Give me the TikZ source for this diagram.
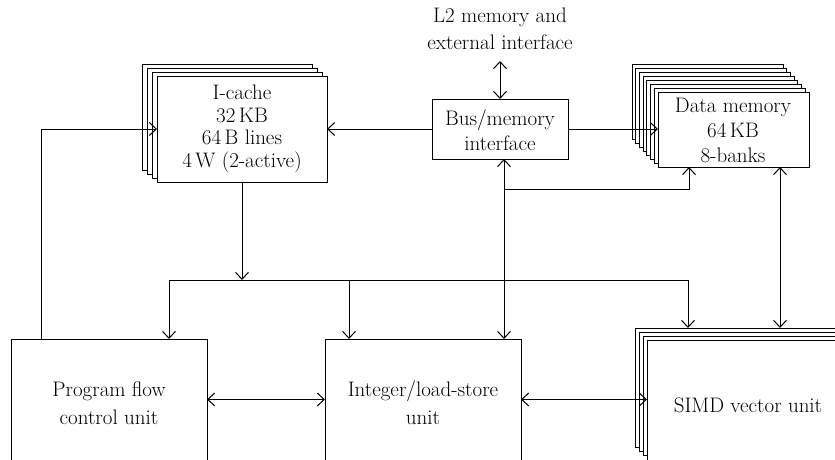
\documentclass[tikz,border=0pt]{standalone}
\usetikzlibrary{arrows.meta}
\begin{document}
\begin{tikzpicture}[x=1pt,y=-1pt,line width=1pt,
  box/.style={draw,fill=white,anchor=north west,inner sep=0pt,outer sep=0pt},
  lbl/.style={font=\fontsize{21}{22.5}\selectfont,align=center,inner sep=0pt},
  arr/.style={-{Straight Barb[length=7pt,width=13pt]}},
  darr/.style={{Straight Barb[length=7pt,width=13pt]}-{Straight Barb[length=7pt,width=13pt]}}]
\clip (0,0) rectangle (835,460);
% I-cache stack
\foreach \i in {3,2,1}
  \node[box,minimum width=170pt,minimum height=106pt] (ic\i) at ({157-4.67*\i},{76-3.67*\i}) {};
\node[box,minimum width=170pt,minimum height=106pt] (icache) at (157,76) {};
\node[lbl] (ictext) at (242,129) {I-cache\\32\,KB\\64\,B lines\\4\,W (2-active)};
% Data memory stack
\foreach \i in {7,6,...,1}
  \node[box,minimum width=151pt,minimum height=75pt] (dm\i) at ({658-3.71*\i},{92-3.86*\i}) {};
\node[box,minimum width=151pt,minimum height=75pt] (dmem) at (658,92) {};
\node[lbl,font=\fontsize{21}{25}\selectfont] (dmtext) at (733,130) {Data memory\\64\,KB\\8-banks};
% Bus/memory interface
\node[box,minimum width=136pt,minimum height=60pt] (bus) at (432,99) {};
\node[lbl,font=\fontsize{21}{25.5}\selectfont] (bustext) at (500,130) {Bus/memory\\interface};
\node[lbl,font=\fontsize{21}{27.5}\selectfont] (l2) at (500,29) {L2 memory and\\external interface};
\coordinate (l2end) at (500,61);
% bottom units
\node[box,minimum width=196pt,minimum height=121pt] (pfc) at (11,339) {};
\node[lbl,font=\fontsize{21}{28}\selectfont] (pfctext) at (109,403) {Program flow\\control unit};
\node[box,minimum width=196pt,minimum height=121pt] (ils) at (325,339) {};
\node[lbl,font=\fontsize{21}{28}\selectfont] (ilstext) at (423,403) {Integer/load-store\\unit};
\foreach \i in {3,2,1}
  \node[box,minimum width=200pt,minimum height=119pt] (simd\i) at ({647-3.67*\i},{340-4*\i}) {};
\node[box,minimum width=200pt,minimum height=120pt] (simd) at (647,340) {};
\node[lbl] (simdtext) at (748,405) {SIMD vector unit};
% connectors
\draw[darr] (l2end) -- (bus.north);
\draw[arr] (bus.west) -- (icache.east |- bus.west);
\draw[arr] (bus.east) -- (dmem.west |- bus.east);
\draw[arr] ([xshift=30pt]pfc.north west) |- (icache.west);
\coordinate (busl) at (169,280);
\coordinate (busr) at (688,280);
\draw[arr] (icache.south) -- (icache.south |- busl);
\draw (busl) -- (busr);
\draw[arr] (busl) -- (busl |- pfc.north);
\draw[arr] ([xshift=24pt]ils.north west |- busl) -- ([xshift=24pt]ils.north west);
\draw[arr] (busr) -- (busr |- simd3.north);
\draw[darr] ([xshift=4pt]bus.south |- ils.north) -- ([xshift=4pt]bus.south);
\coordinate (br) at (504,189);
\draw[arr] (br) -| ([xshift=31pt]dmem.south west);
\draw[darr] ([xshift=122pt]dmem.south west) -- ([xshift=122pt]dmem.south west |- simd3.north);
\draw[darr] (pfc.east) -- (ils.west);
\draw[darr] (ils.east) -- (simd.west |- ils.east);
\end{tikzpicture}
\end{document}
